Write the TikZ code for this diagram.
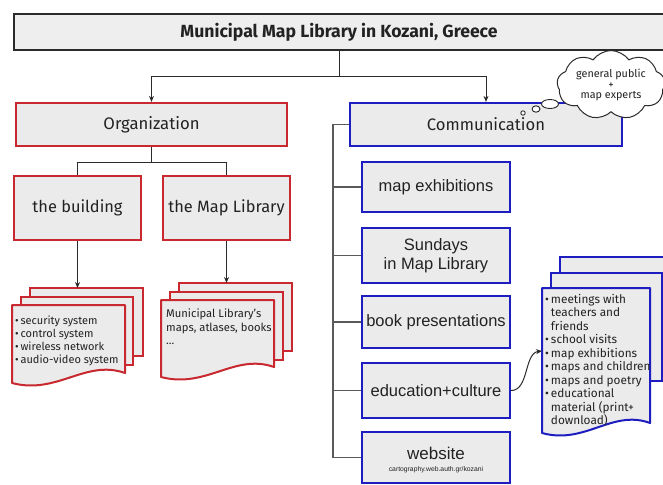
\documentclass[tikz,border=0pt]{standalone}
\usepackage{fontspec}
\setmainfont{Fira Sans}
\newfontfamily\arialf{Liberation Sans}
\usetikzlibrary{shapes.symbols,arrows.meta}
\definecolor{boxfill}{HTML}{EBEBEB}
\definecolor{titlefill}{HTML}{EEEEEE}
\definecolor{redline}{HTML}{C8282E}
\definecolor{blueline}{HTML}{1E1EC0}
\definecolor{lineclr}{HTML}{2A2A2A}
\definecolor{branchclr}{HTML}{5A5A5A}
\definecolor{txt}{HTML}{222222}
\newcommand{\mydocfront}[5]{%
  \filldraw[draw=#1, fill=boxfill, line width=2pt, line join=round]
    (#2,#3) -- (#4,#3) -- (#4,{#5-10})
    .. controls ({#4-0.35*(#4-#2)},{#5-24}) and ({#2+0.4*(#4-#2)},{#5+12}) .. (#2,#5) -- cycle;}
\newcommand{\mydocback}[5]{%
  \filldraw[draw=#1, fill=boxfill, line width=2pt] (#2,#3) rectangle (#4,#5);}
\tikzset{
  basebox/.style={rectangle, inner sep=0pt, text=txt, align=center},
  titlebox/.style={basebox, draw=lineclr, fill=titlefill, line width=1.6pt,
    font=\bfseries\fontsize{17.6}{19}\selectfont},
  redbox/.style={basebox, draw=redline, fill=boxfill, line width=2.2pt,
    font=\fontsize{16.4}{19}\selectfont},
  bluebox/.style={basebox, draw=blueline, fill=boxfill, line width=2.2pt,
    font=\arialf\fontsize{16.5}{19.5}\selectfont, minimum width=148pt},
  conn/.style={draw=lineclr, line width=1pt},
  arr/.style={conn, -{Stealth[length=6pt,width=5pt]}},
  branch/.style={draw=branchclr, line width=1.3pt},
  doctext/.style={anchor=north west, inner sep=0pt, align=left, text=txt},
  bubble/.style={draw=lineclr, fill=white, line width=0.9pt},
}
\begin{document}
\begin{tikzpicture}[x=1pt,y=-1pt]
\useasboundingbox (0,0) rectangle (663,484);
\fill[white] (0,0) rectangle (663,484);

% title
\node[titlebox, minimum width=650pt, minimum height=36pt] (title) at (339,32)
  {Municipal Map Library in Kozani, Greece};

% level 1
\node[redbox, minimum width=271pt, minimum height=43pt, font=\fontsize{16.7}{19}\selectfont]
  (org) at (151.5,124.5) {Organization};
\node[bluebox, minimum width=272pt, minimum height=43pt, font=\fontsize{16.6}{19}\selectfont]
  (comm) at (486,124.5) {Communication};

\draw[arr] (title.south) -- ++(0,26) coordinate (tj) -| (org.north);
\draw[arr] (tj) -| (comm.north);

% thought cloud
\draw[bubble] (523,113) circle (2.2);
\draw[bubble] (536,109) ellipse (4 and 3.2);
\draw[bubble] (550,104) ellipse (8.5 and 4.5);
\node[cloud, cloud puffs=9, cloud puff arc=110, aspect=1.8, draw=lineclr, fill=white,
  line width=1pt, minimum width=108pt, minimum height=62pt, inner sep=0pt,
  align=center, text=txt, font=\fontsize{10.8}{10.5}\selectfont]
  (cloud) at (611,85) {general public\\+\\map experts};

% organization children
\node[redbox, minimum width=127pt, minimum height=64pt] (bld) at (77.5,208) {the building};
\node[redbox, minimum width=127pt, minimum height=64pt] (mlib) at (226.5,208) {the Map Library};
\draw[conn] (org.south) -- ++(0,15) coordinate (oj) -| (bld.north);
\draw[conn] (oj) -| (mlib.north);

% left red document stack
\mydocback{redline}{30}{288}{143}{356}
\mydocback{redline}{21}{297}{133}{365}
\mydocfront{redline}{12}{305}{125}{383}
\node[doctext, font=\fontsize{11}{12.8}\selectfont] (bldlist) at (15,316)
  {\textbullet\,security system\\ \textbullet\,control system\\
   \textbullet\,wireless network\\ \textbullet\,audio-video system};
\coordinate (lstack) at (77.5,288);
\draw[arr] (bld.south) -- (lstack);

% right red document stack
\mydocback{redline}{179}{283}{292}{351}
\mydocback{redline}{170}{292}{283}{360}
\mydocfront{redline}{161}{300}{274}{377}
\node[doctext, font=\fontsize{11.2}{13.2}\selectfont] (mliblist) at (166,309)
  {Municipal Library's\\ maps, atlases, books\\ ...};
\coordinate (rstack) at (226.5,283);
\draw[arr] (mlib.south) -- (rstack);

% communication children
\node[bluebox, minimum height=50pt] (mapex) at (436,187) {map exhibitions};
\node[bluebox, minimum height=55pt] (sund) at (436,255.5) {Sundays\\in Map Library};
\node[bluebox, minimum height=52pt] (book) at (436,322) {book presentations};
\node[bluebox, minimum height=55pt] (edu) at (436,390.5) {education+culture};
\node[bluebox, minimum height=51pt] (web) at (436,457.5) {};
\node[text=txt, inner sep=0pt, font=\arialf\fontsize{17}{17}\selectfont] (webt) at (436,453) {website};
\node[text=txt, inner sep=0pt, font=\arialf\fontsize{6.8}{7}\selectfont] (webu) at (436,470)
  {cartography.web.auth.gr/kozani};

\draw[branch] (comm.west) -- ++(-16,0) coordinate (cj) |- (web.west);
\foreach \n in {mapex,sund,book,edu}{\draw[branch] (cj) |- (\n.west);}

% blue document stack
\mydocback{blueline}{560}{257}{672}{372}
\mydocback{blueline}{551}{273}{662}{381}
\mydocfront{blueline}{542}{288}{650}{433}
\node[doctext, font=\fontsize{11.8}{13.5}\selectfont] (edulist) at (545,294)
  {\textbullet\,meetings with\\ \phantom{\textbullet\,}teachers and\\ \phantom{\textbullet\,}friends\\
   \textbullet\,school visits\\ \textbullet\,map exhibitions\\ \textbullet\,maps and children\\
   \textbullet\,maps and poetry\\ \textbullet\,educational\\
   \phantom{\textbullet\,}material (print+\\ \phantom{\textbullet\,}download)};
\coordinate (bstack) at (542,351);
\draw[arr] (edu.east) .. controls +(18,0) and +(-18,2) .. (bstack);
\end{tikzpicture}
\end{document}
